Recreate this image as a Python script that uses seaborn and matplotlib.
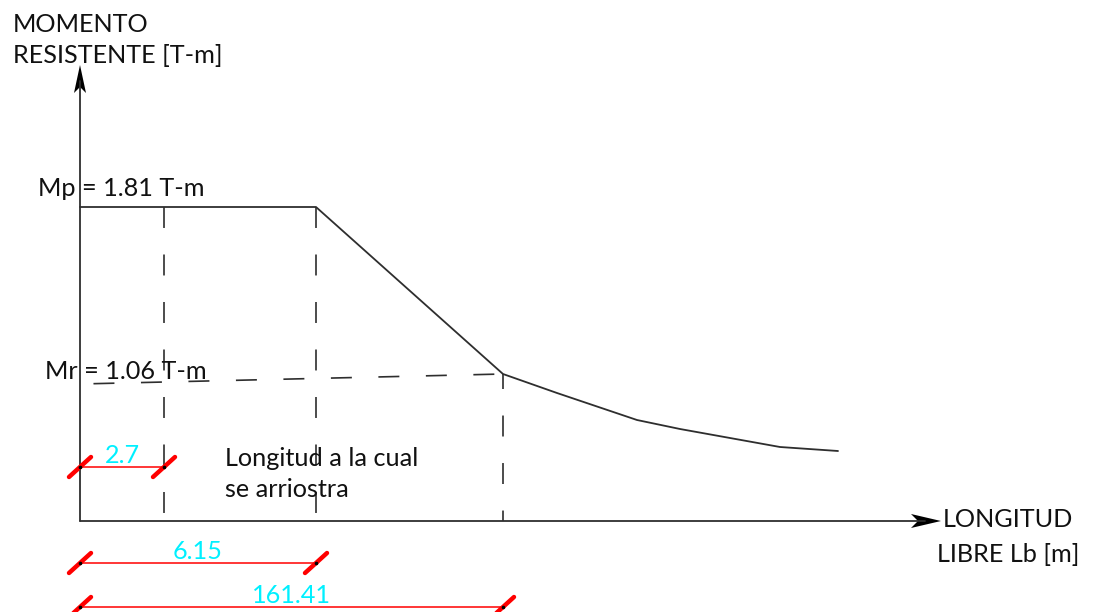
import matplotlib
matplotlib.use("Agg")
import matplotlib.pyplot as plt
from matplotlib.patches import Polygon
import numpy as np
import pandas as pd
import seaborn as sns

# Schematic resisting moment vs. unbraced length (not to scale)
curve_lb = [0, 236, 423, 477, 557, 600, 700, 758]
curve_m = [314, 314, 147, 128, 101, 92, 74, 70]

# Schematic positions of the characteristic lengths and their values [m]
mark_pos = [84, 236, 423]
mark_labels = ["2.7", "6.15", "161.41"]

# Characteristic moments [T-m] and their schematic heights
mp_value, mr_value = 1.81, 1.06
mr_line_lb = [0, 423]
mr_line_m = [137, 147]

sns.set_theme(style="white")
plt.rcParams["font.family"] = ["Lato", "DejaVu Sans"]
plt.rcParams["lines.scale_dashes"] = False

INK = "#2e2e2e"
RED = "#ff0000"
CYAN = "#00f0ff"
FS = 18.2
DASH = (15.1, 19.1)

fig = plt.figure(figsize=(10.93, 6.12), dpi=100)
ax = fig.add_axes([0, 0, 1, 1])
ax.set_xlim(-80, 1013)
ax.set_ylim(-91, 521)
ax.axis("off")

# main curve
curve = pd.DataFrame({"Lb": curve_lb, "M": curve_m})
sns.lineplot(data=curve, x="Lb", y="M", sort=False, estimator=None,
             color=INK, lw=1.3, ax=ax)

# axes with arrowheads
ax.plot([0, 0], [0, 440], color=INK, lw=1.3)
ax.plot([0, 845], [0, 0], color=INK, lw=1.3)
ax.add_patch(Polygon([(0, 456), (-6, 428), (0, 434), (6, 428)],
                     closed=True, color="black", lw=0))
ax.add_patch(Polygon([(861, 0), (831, 7), (838, 0), (831, -7)],
                     closed=True, color="black", lw=0))

# dashed projections
offsets = [0, 0, 4.3]
for xv, off in zip(mark_pos, offsets):
    ytop = np.interp(xv, curve_lb, curve_m)
    ax.plot([xv, xv], [ytop, 0], color=INK, lw=1.2, ls=(off, DASH))
ax.plot(mr_line_lb, mr_line_m, color=INK, lw=1.2, ls=(24.5, DASH))

# dimension lines
rows = [54, -42, -86]
for xv, row, lab in zip(mark_pos, rows, mark_labels):
    ax.plot([0, xv], [row, row], color=RED, lw=1.1, zorder=3)
    for xe in (0, xv):
        ax.plot([xe - 11, xe + 11], [row - 10, row + 10], color=RED,
                lw=3.2, solid_capstyle="round", zorder=4)
        ax.plot([xe], [row], "o", ms=1.6, color="black", zorder=5)
    ax.text(xv / 2, row + 4, lab, color=CYAN, fontsize=FS,
            ha="center", va="baseline", zorder=6)

# labels
ax.text(-67, 489, "MOMENTO", fontsize=FS, color="#111111", va="baseline")
ax.text(-67, 458, "RESISTENTE [T-m]", fontsize=FS, color="#111111", va="baseline")
ax.text(-42, 325, f"Mp = {mp_value} T-m", fontsize=FS, color="#111111", va="baseline")
ax.text(-35, 142, f"Mr = {mr_value} T-m", fontsize=FS, color="#111111", va="baseline")
ax.text(145, 55, "Longitud a la cual", fontsize=FS, color="#111111", va="baseline")
ax.text(145, 24, "se arriostra", fontsize=FS, color="#111111", va="baseline")
ax.text(928, -6, "LONGITUD", fontsize=FS, color="#111111", ha="center", va="baseline")
ax.text(928, -41, "LIBRE Lb [m]", fontsize=FS, color="#111111", ha="center", va="baseline")

fig.savefig("out.png", dpi=100, facecolor="white")
